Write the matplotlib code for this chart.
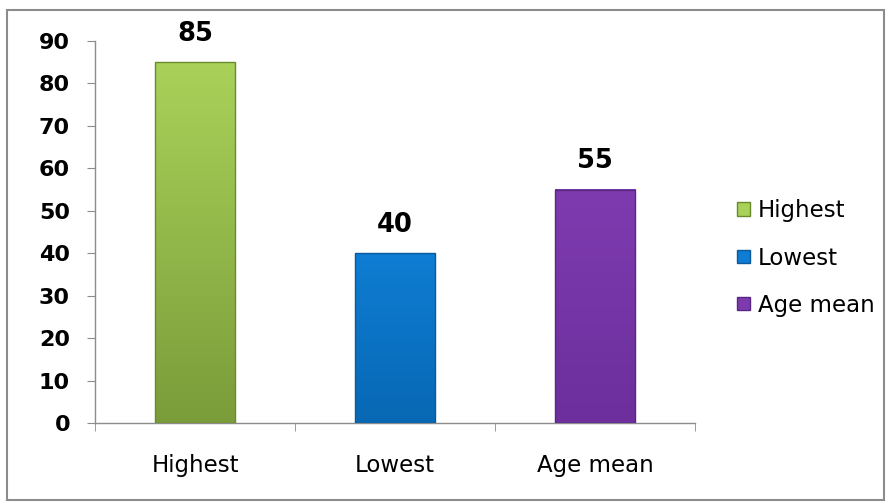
import matplotlib
matplotlib.use("Agg")
import matplotlib.pyplot as plt
from matplotlib.patches import Rectangle, Patch
from matplotlib.colors import LinearSegmentedColormap
import numpy as np

categories = ["Highest", "Lowest", "Age mean"]
values = [85, 40, 55]
top_colors = ["#a9d259", "#0e7dd3", "#7e3bb0"]
bottom_colors = ["#7b9c3a", "#0868b4", "#6c2f9c"]
edge_colors = ["#6a8a30", "#0a5a9c", "#5a287f"]
yticks = [0, 10, 20, 30, 40, 50, 60, 70, 80, 90]

fig = plt.figure(figsize=(8.88, 5.04), dpi=100)
fig.patches.append(Rectangle((0.008, 0.008), 0.987, 0.972, transform=fig.transFigure,
                             fill=False, edgecolor="#8c8c8c", linewidth=1.5))
ax = fig.add_axes([0.107, 0.1607, 0.676, 0.758])

x = np.arange(len(categories))
width = 0.4
bars = ax.bar(x, values, width=width, color="none", edgecolor=edge_colors, linewidth=1.0, zorder=4)
grad = np.linspace(0, 1, 256).reshape(-1, 1)
for b, tc, bc in zip(bars, top_colors, bottom_colors):
    cmap = LinearSegmentedColormap.from_list("g", [bc, tc])
    ax.imshow(grad, extent=[b.get_x(), b.get_x() + b.get_width(), 0, b.get_height()],
              origin="lower", aspect="auto", cmap=cmap, zorder=3)

for xi, v in zip(x, values):
    ax.text(xi, v + 3.6, str(v), ha="center", va="bottom", fontsize=18.5, fontweight="bold",
            family="DejaVu Sans")

ax.set_xlim(-0.5, 2.5)
ax.set_ylim(0, 90)
ax.set_yticks(yticks)
ax.set_yticklabels([str(t) for t in yticks], fontsize=16, fontweight="bold", family="DejaVu Sans")
ax.set_xticks(x)
ax.set_xticklabels(categories, fontsize=16.5, family="DejaVu Sans")
ax.tick_params(axis="x", length=0, pad=22)
ax.set_xticks([-0.5, 0.5, 1.5, 2.5], minor=True)
ax.tick_params(axis="x", which="minor", length=6, color="#8c8c8c", direction="out")
ax.tick_params(axis="y", length=6, color="#8c8c8c", direction="out", pad=12)

for s in ["top", "right"]:
    ax.spines[s].set_visible(False)
for s in ["left", "bottom"]:
    ax.spines[s].set_color("#8c8c8c")
    ax.spines[s].set_linewidth(1.0)

handles = [Patch(facecolor=tc, edgecolor=e) for tc, e in zip(top_colors, edge_colors)]
leg = fig.legend(handles, categories, loc="center left", bbox_to_anchor=(0.807, 0.488),
                 frameon=False, handlelength=0.55, handleheight=0.55,
                 labelspacing=1.05, handletextpad=0.35, prop={"family": "DejaVu Sans", "size": 16.5})

fig.savefig("out.png", dpi=100)
